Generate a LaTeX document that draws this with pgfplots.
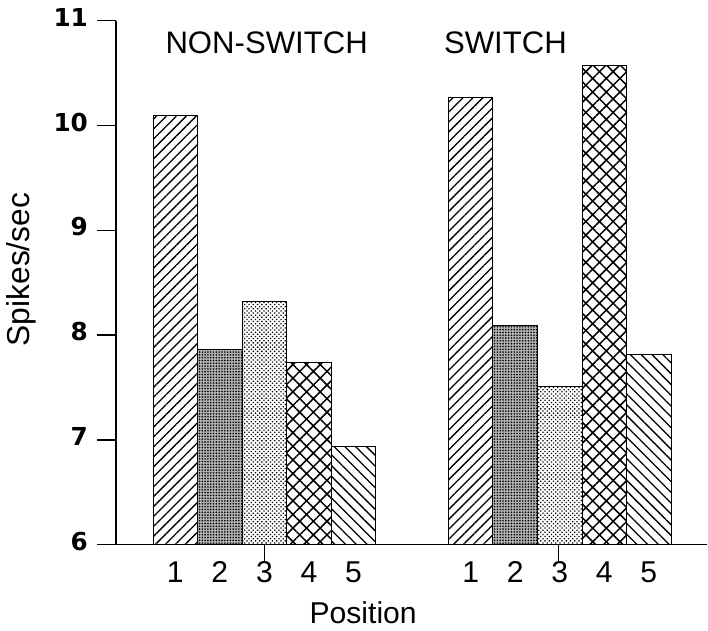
\documentclass[border=0pt]{standalone}
\usepackage{fontspec}
\setmainfont{Liberation Sans}
\newfontfamily\tickfont{DejaVu Sans}
\usepackage{pgfplots}
\pgfplotsset{compat=1.18}
\usetikzlibrary{patterns.meta}

\begin{document}
\begin{tikzpicture}
\begin{axis}[
  scale only axis,
  width=294.5pt, height=261pt,
  xmin=-0.33, xmax=12.94,
  ymin=6, ymax=11,
  axis lines=left,
  axis line style={-, line width=0.8pt},
  ybar, bar width=1, bar shift=0pt,
  /pgf/number format/assume math mode=true,
  tick align=outside,
  major tick length=9.5pt,
  minor tick length=8pt,
  tick style={line width=0.7pt, black},
  ytick={6,7,8,9,10,11},
  yticklabel style={font=\tickfont\fontsize{12.3}{14}\selectfont\bfseries, xshift=-1pt},
  xtick={1,2,3,4,5,7.63,8.63,9.63,10.63,11.63},
  xticklabels={1,2,3,4,5,1,2,3,4,5},
  major x tick style={draw=none},
  minor xtick={3,9.6},
  typeset ticklabels with strut,
  xticklabel style={font=\fontsize{15}{17}\selectfont, yshift=6pt},
  xlabel={Position},
  xlabel style={font=\fontsize{15}{17}\selectfont, at={(axis description cs:0.418,-0.095)}, anchor=north},
  ylabel={Spikes/sec},
  ylabel style={font=\fontsize{15.8}{17}\selectfont, at={(axis description cs:-0.16,0.525)}, anchor=center},
]
% position 1
\addplot[draw=black, line width=0.5pt, pattern={Lines[angle=45, distance=3.5pt, line width=0.65pt]}]
  coordinates {(1,10.10) (7.63,10.27)};
% position 2
\addplot[draw=black, line width=0.5pt, preaction={fill=gray!60}, pattern={Dots[distance=1.4pt, radius=0.45pt]}]
  coordinates {(2,7.86) (8.63,8.09)};
% position 3
\addplot[draw=black, line width=0.5pt, preaction={fill=white}, pattern={Dots[angle=45, distance=1.5pt, radius=0.45pt]}]
  coordinates {(3,8.32) (9.63,7.51)};
% position 4
\addplot[draw=black, line width=0.5pt, pattern={Hatch[angle=45, distance=4.8pt, line width=0.75pt]}]
  coordinates {(4,7.74) (10.63,10.57)};
% position 5
\addplot[draw=black, line width=0.5pt, pattern={Lines[angle=-45, distance=3.8pt, line width=0.65pt]}]
  coordinates {(5,6.94) (11.63,7.81)};

\node[font=\fontsize{15.5}{17}\selectfont] at (axis cs:3.05,10.79) {NON-SWITCH};
\node[font=\fontsize{15.5}{17}\selectfont] at (axis cs:8.41,10.79) {SWITCH};
\end{axis}
\end{tikzpicture}
\end{document}
